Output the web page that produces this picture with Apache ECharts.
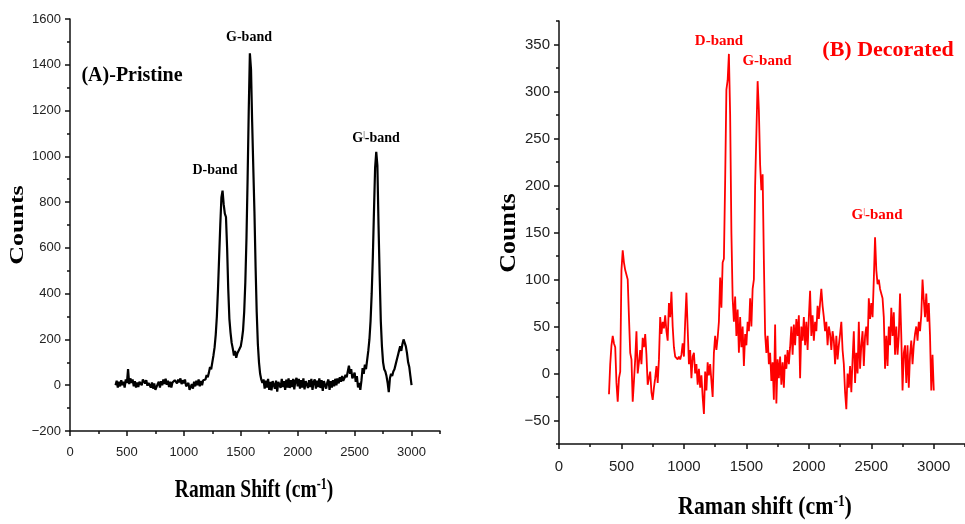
<!DOCTYPE html>
<html>
<head>
<meta charset="utf-8">
<script src="https://cdn.jsdelivr.net/npm/echarts@6/dist/echarts.min.js"></script>
<style>html,body{margin:0;padding:0;background:#fff;}#c{width:965px;height:524px;}</style>
</head>
<body>
<div id="c"></div>
<script>
// Raman shift sampling (cm^-1), shared by both spectra
const shift = [
400,410,420,430,440,450,460,470,480,490,
500,510,520,530,540,550,560,570,580,590,
600,610,620,630,640,650,660,670,680,690,
700,710,720,730,740,750,760,770,780,790,
800,810,820,830,840,850,860,870,880,890,
900,910,920,930,940,950,960,970,980,990,
1000,1010,1020,1030,1040,1050,1060,1070,1080,1090,
1100,1110,1120,1130,1140,1150,1160,1170,1180,1190,
1200,1210,1220,1230,1240,1250,1260,1270,1280,1290,
1300,1310,1320,1330,1340,1350,1360,1370,1380,1390,
1400,1410,1420,1430,1440,1450,1460,1470,1480,1490,
1500,1510,1520,1530,1540,1550,1560,1570,1580,1590,
1600,1610,1620,1630,1640,1650,1660,1670,1680,1690,
1700,1710,1720,1730,1740,1750,1760,1770,1780,1790,
1800,1810,1820,1830,1840,1850,1860,1870,1880,1890,
1900,1910,1920,1930,1940,1950,1960,1970,1980,1990,
2000,2010,2020,2030,2040,2050,2060,2070,2080,2090,
2100,2110,2120,2130,2140,2150,2160,2170,2180,2190,
2200,2210,2220,2230,2240,2250,2260,2270,2280,2290,
2300,2310,2320,2330,2340,2350,2360,2370,2380,2390,
2400,2410,2420,2430,2440,2450,2460,2470,2480,2490,
2500,2510,2520,2530,2540,2550,2560,2570,2580,2590,
2600,2610,2620,2630,2640,2650,2660,2670,2680,2690,
2700,2710,2720,2730,2740,2750,2760,2770,2780,2790,
2800,2810,2820,2830,2840,2850,2860,2870,2880,2890,
2900,2910,2920,2930,2940,2950,2960,2970,2980,2990,
3000];

// (A) Pristine counts
const countsPristine = [
0,20,-10,15,-5,22,0,15,-10,25,
10,70,5,30,10,25,-5,18,-10,12,
-8,15,22,0,25,28,8,22,-2,10,
15,-10,12,-15,8,-20,-28,5,15,-10,
18,0,25,5,28,2,20,-8,15,-10,
12,5,22,30,8,25,12,30,5,22,
8,25,-5,-10,10,-20,-28,5,-15,15,
-5,20,0,25,-5,18,0,22,28,25,
45,35,55,80,70,100,130,165,220,300,
420,560,700,820,850,790,750,735,600,420,
290,230,185,160,130,150,120,140,150,145,
170,200,240,320,450,640,900,1200,1450,1380,
1150,950,760,520,320,180,100,50,25,10,
25,-15,20,-10,28,-20,15,-22,18,25,
-15,20,-28,15,22,-12,28,-8,18,-20,
25,-10,30,-12,22,-8,28,-18,20,32,
-5,28,-15,22,-10,30,-18,18,25,-12,
22,-8,28,-20,15,25,-15,20,-8,30,
-12,22,-25,18,25,-15,12,25,-20,18,
-10,22,-5,28,0,30,8,35,15,40,
20,30,45,35,60,85,50,70,30,40,
55,15,40,-10,10,-20,20,75,50,90,
70,110,150,200,280,400,560,760,950,1020,
960,700,480,280,170,100,70,60,40,10,
-30,30,50,40,60,70,90,110,130,150,
170,150,180,200,185,170,140,100,80,40,
0];

// (B) Decorated counts
const countsDecorated = [
-22,10,30,40,32,28,-10,-30,-5,2,
110,131,118,110,105,100,60,22,15,-30,
-8,15,45,0,12,25,10,38,28,42,
20,-12,-5,2,-20,-28,-15,-5,8,-10,
15,60,42,55,48,62,45,35,75,60,
87,50,28,18,20,15,18,15,20,32,
18,55,86,48,10,25,-5,18,22,0,
10,-12,5,-15,-2,-25,-43,2,-18,12,
-2,10,-8,-25,22,40,25,38,55,102,
70,118,122,205,302,312,340,275,150,80,
55,82,40,68,22,60,28,50,8,42,
30,55,45,80,50,90,100,200,255,311,
280,222,195,212,120,42,22,40,10,22,
-8,12,-28,52,-32,15,-5,18,-12,12,
-15,20,5,25,10,28,50,20,52,30,
58,40,62,-5,50,35,60,30,55,25,
60,88,40,62,35,55,45,72,58,75,
90,72,60,45,55,30,50,42,25,45,
35,10,40,15,30,42,55,25,10,-20,
-38,0,-15,8,-20,15,45,-10,22,0,
55,5,30,45,8,40,50,30,80,58,
75,60,100,145,110,95,100,90,88,80,
60,5,40,8,50,30,70,40,65,20,
50,20,40,85,40,-18,22,30,-10,30,
-15,20,35,10,30,42,50,35,55,45,
62,100,78,60,85,55,75,40,-18,20,
-18];

// Tick labels
const xTickLabels = [0,500,1000,1500,2000,2500,3000];
const yTickLabelsA = [-200,0,200,400,600,800,1000,1200,1400,1600];
const yTickLabelsB = [-50,0,50,100,150,200,250,300,350];

const chart = echarts.init(document.getElementById('c'), null, {renderer:'canvas'});
const AX = {color:'#111', width:1.5};
const sans = '"Liberation Sans", Arial, sans-serif';
const serif = '"Liberation Serif", "Times New Roman", serif';
const fmt = v => (v < 0 ? '\u2212' + Math.abs(v) : String(v));

function mainAxis(grid, min, max, interval){
  return {gridIndex:grid, type:'value', min:min, max:max, interval:interval,
    axisLine:{show:true, onZero:false, lineStyle:AX},
    axisTick:{show:true, length:3, lineStyle:AX},
    axisLabel:{show:false}, splitLine:{show:false}};
}
function labelAxis(grid, min, max, pos, vals, size, margin){
  return {gridIndex:grid, type:'value', min:min, max:max, position:pos,
    axisLine:{show:false, onZero:false},
    axisTick:{show:true, length:5, lineStyle:AX, customValues:vals},
    axisLabel:{show:true, customValues:vals, formatter:fmt, fontFamily:sans, fontSize:size, color:'#222', margin:margin},
    splitLine:{show:false}};
}

function txt(x, y, text, size, color, opts){
  opts = opts || {};
  return {type:'text', x:x, y:y, rotation:opts.rot||0, scaleX:opts.sx||1, scaleY:opts.sy||1, z:100,
    style:{text:text, fontFamily:serif, fontWeight:'bold', fontSize:size, fill:color,
      align:'center', verticalAlign:'middle', textAlign:'center', textVerticalAlign:'middle',
      rich:{
        sup:{fontFamily:serif, fontWeight:'bold', fontSize:Math.round(size*0.6), fill:color, verticalAlign:'top', lineHeight:size},
        bar:{fontFamily:serif, fontWeight:'normal', fontSize:Math.round(size*0.6), fill:color, verticalAlign:'top', lineHeight:size},
        n:{fontFamily:serif, fontWeight:'bold', fontSize:size, fill:color, lineHeight:size}
      }}};
}

const option = {
  backgroundColor:'#fff',
  animation:false,
  grid:[
    {left:70, top:19, width:370, height:412},
    {left:559, top:21, width:411, height:423}
  ],
  xAxis:[
    mainAxis(0, 0, 3250, 250),
    labelAxis(0, 0, 3250, 'bottom', xTickLabels, 13, 15),
    mainAxis(1, 0, 3250, 250),
    labelAxis(1, 0, 3250, 'bottom', xTickLabels, 15, 15)
  ],
  yAxis:[
    mainAxis(0, -200, 1600, 100),
    labelAxis(0, -200, 1600, 'left', yTickLabelsA, 13, 9),
    mainAxis(1, -75, 375, 25),
    labelAxis(1, -75, 375, 'left', yTickLabelsB, 15, 9)
  ],
  series:[
    {type:'line', xAxisIndex:0, yAxisIndex:0, showSymbol:false, symbol:'none',
     lineStyle:{color:'#000', width:2.2}, data:shift.map((s,i)=>[s,countsPristine[i]])},
    {type:'line', xAxisIndex:2, yAxisIndex:2, showSymbol:false, symbol:'none',
     lineStyle:{color:'#ff0000', width:1.8}, data:shift.map((s,i)=>[s,countsDecorated[i]])}
  ],
  graphic:[
    txt(132, 76, '(A)-Pristine', 20, '#000'),
    txt(249, 37, 'G-band', 14, '#000'),
    txt(215, 170, 'D-band', 14, '#000'),
    txt(376, 138, '{n|G}{bar||}{n|-band}', 14, '#000'),
    txt(18, 225, 'Counts', 26, '#000', {rot:Math.PI/2, sy:0.75}),
    txt(254, 490, '{n|Raman Shift (cm}{sup|-1}{n|)}', 26, '#000', {sx:0.75}),
    txt(719, 41, 'D-band', 15, '#ff0000'),
    txt(767, 61, 'G-band', 15, '#ff0000'),
    txt(888, 50, '(B) Decorated', 22, '#ff0000'),
    txt(877, 215, '{n|G}{bar||}{n|-band}', 15, '#ff0000'),
    txt(509, 233, 'Counts', 26, '#000', {rot:Math.PI/2, sy:0.85}),
    txt(765, 507, '{n|Raman shift (cm}{sup|-1}{n|)}', 26, '#000', {sx:0.84})
  ]
};
chart.setOption(option);
</script>
</body>
</html>
